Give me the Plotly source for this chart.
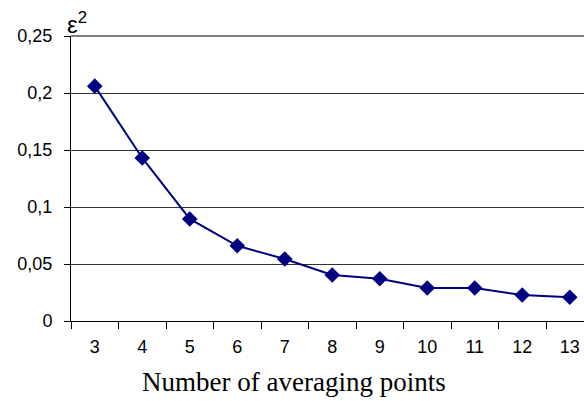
import plotly.graph_objects as go

points = ["3", "4", "5", "6", "7", "8", "9", "10", "11", "12", "13"]
eps2 = [0.206, 0.143, 0.0895, 0.066, 0.0544, 0.0404, 0.037, 0.029, 0.029, 0.0228, 0.0208]
y_ticks = [0, 0.05, 0.1, 0.15, 0.2, 0.25]

fig = go.Figure()
fig.add_trace(go.Scatter(
    x=points, y=eps2, mode="lines+markers",
    line=dict(color="#000080", width=2),
    marker=dict(symbol="diamond", size=12, color="#000080"),
    showlegend=False,
))

fig.update_layout(
    width=584, height=401,
    margin=dict(l=71, r=0, t=36, b=80),
    paper_bgcolor="white", plot_bgcolor="white",
    separators=",.",
    font=dict(family="Liberation Sans, Arial", size=18, color="black"),
    xaxis=dict(
        type="category", range=[-0.5, 10.3],
        tickson="boundaries", ticks="outside", ticklen=7, tickcolor="black",
        showline=True, linecolor="black", linewidth=1, showgrid=False,
        ticklabelstandoff=9,
    ),
    yaxis=dict(
        range=[0, 0.25], tickvals=y_ticks, ticks="outside", ticklen=6, tickcolor="black",
        showline=True, linecolor="black", linewidth=1,
        showgrid=True, gridcolor="#333333", gridwidth=1, zeroline=False,
        ticklabelstandoff=8,
    ),
    annotations=[
        dict(text="ε<sup>2</sup>", xref="paper", yref="paper", x=0.0, y=1.0,
             xanchor="left", yanchor="bottom", showarrow=False, xshift=-6, yshift=-4,
             font=dict(family="Liberation Sans, Arial", size=24)),
        dict(text="Number of averaging points", xref="paper", yref="paper",
             x=0.4347, y=-0.214, xanchor="center", yanchor="middle", showarrow=False,
             font=dict(family="Liberation Serif, Times New Roman", size=27)),
    ],
)
fig.add_shape(type="line", xref="paper", yref="paper", x0=0, x1=1, y0=1, y1=1,
              line=dict(color="black", width=1))

fig.write_html("out.html", config={"displayModeBar": False},
               post_script="document.body.style.margin='0';document.body.style.overflow='hidden';")
